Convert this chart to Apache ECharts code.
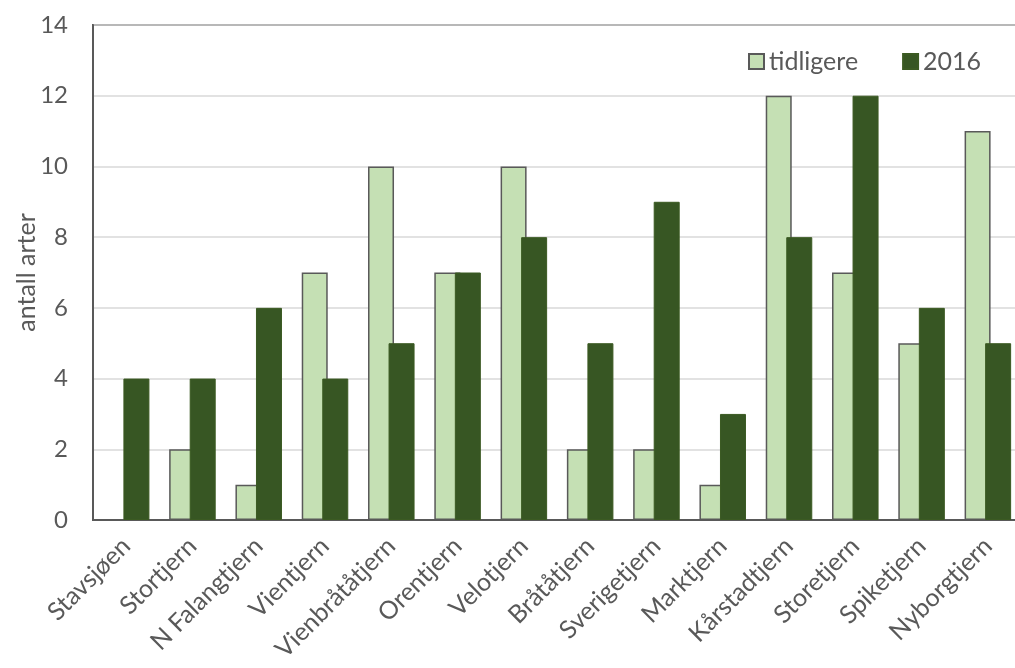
<!DOCTYPE html>
<html>
<head>
<meta charset="utf-8">
<script src="https://cdn.jsdelivr.net/npm/echarts@6/dist/echarts.min.js"></script>
<style>html,body{margin:0;padding:0;background:#fff;}#c{width:1015px;height:668px;}</style>
</head>
<body>
<div id="c"></div>
<script>
const categories = ['Stavsjøen','Stortjern','N Falangtjern','Vientjern','Vienbråtåtjern','Orentjern','Velotjern','Bråtåtjern','Sverigetjern','Marktjern','Kårstadtjern','Storetjern','Spiketjern','Nyborgtjern'];
const tidligere = [null, 2, 1, 7, 10, 7, 10, 2, 2, 1, 12, 7, 5, 11];
const y2016 = [4, 4, 6, 4, 5, 7, 8, 5, 9, 3, 8, 12, 6, 5];
const yTicks = {min: 0, max: 14, interval: 2};

const FONT = 'Lato, "Open Sans", sans-serif';
const TXT = '#595959';
const chart = echarts.init(document.getElementById('c'), null, {renderer: 'canvas'});
chart.setOption({
  animation: false,
  textStyle: {fontFamily: FONT},
  grid: {left: 93, top: 25, width: 928, bottom: 148, outerBoundsMode: 'none', containLabel: false,
         show: true, borderColor: '#595959', borderWidth: 2, backgroundColor: 'transparent'},
  legend: {
    left: 743, top: 44, itemWidth: 15, itemHeight: 15, itemGap: 44,
    icon: 'rect',
    textStyle: {fontSize: 25, color: TXT, fontFamily: FONT},
    data: ['tidligere', '2016']
  },
  xAxis: {
    type: 'category', data: categories,
    axisLine: {show: true, lineStyle: {color: '#595959', width: 2}},
    axisTick: {show: false},
    axisLabel: {rotate: 45, fontSize: 25, color: TXT, margin: 22, interval: 0, fontFamily: FONT}
  },
  yAxis: {
    type: 'value', min: yTicks.min, max: yTicks.max, interval: yTicks.interval,
    name: 'antall arter', nameLocation: 'middle', nameGap: 54, nameRotate: 90, nameMoveOverlap: false,
    nameTextStyle: {fontSize: 25, color: TXT, fontFamily: FONT},
    axisLine: {show: true, lineStyle: {color: '#595959', width: 2}},
    axisTick: {show: false},
    axisLabel: {fontSize: 24, color: TXT, margin: 25, fontFamily: FONT},
    splitLine: {lineStyle: {color: '#d9d9d9', width: 1.5}}
  },
  series: [
    {name: 'tidligere', type: 'bar', data: tidligere, barWidth: 26, barGap: '-21%',
     itemStyle: {color: '#c5e0b4', borderColor: '#595959', borderWidth: 1.5}},
    {name: '2016', type: 'bar', data: y2016, barWidth: 26,
     itemStyle: {color: '#375623', borderColor: '#3b5a22', borderWidth: 1}}
  ]
});
</script>
</body>
</html>
